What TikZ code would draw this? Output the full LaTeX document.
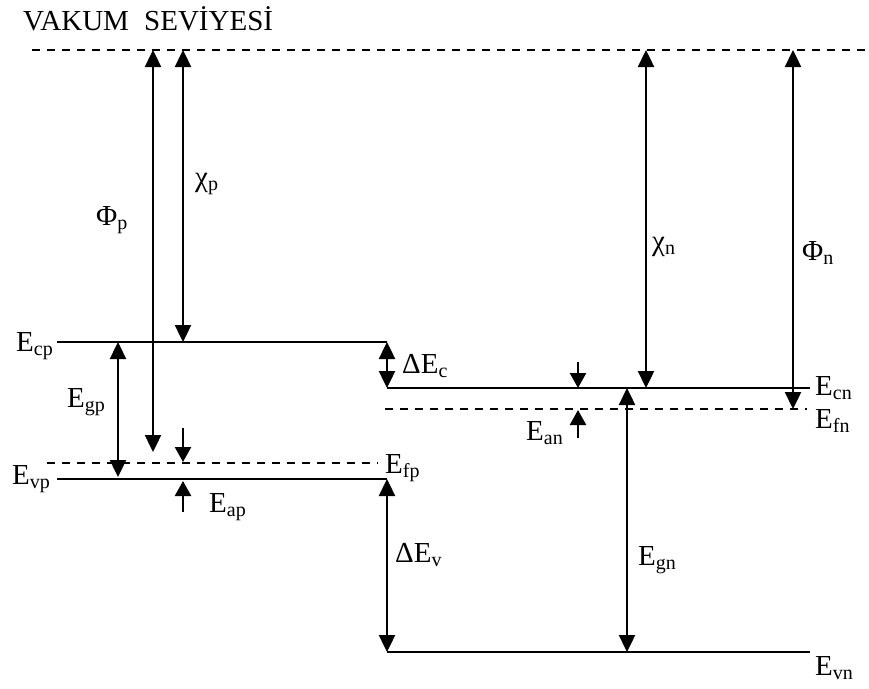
\documentclass[tikz,border=0pt]{standalone}
\usepackage{fontspec}
\setmainfont{Liberation Serif}
\usepackage{tikz}
\usetikzlibrary{arrows.meta}
\newcommand{\lv}[2]{#1\raisebox{-4pt}{\fontsize{20}{20}\selectfont #2}}
\tikzstyle{band} = [draw, line width=2.2pt]
\tikzstyle{fermi} = [draw, line width=1.8pt, dash pattern=on 8pt off 7pt]
\tikzstyle{gaparrow} = [draw, line width=2.4pt, {Triangle[length=17pt,width=16pt]}-{Triangle[length=17pt,width=16pt]}]
\tikzstyle{tickarrow} = [draw, line width=2.4pt, -{Triangle[length=15pt,width=16pt]}]
\tikzstyle{lbl} = [inner sep=0pt, anchor=base west, font=\fontsize{29}{33}\selectfont]

\begin{document}
\begin{tikzpicture}[x=1pt, y=-1pt]
    \useasboundingbox (0, 0) rectangle (869, 688);

    % vacuum level
    \node[lbl] at (23, 30) (vaclbl) {VAKUM\hspace{8pt} SEVİYESİ};
    \coordinate (vacL) at (32, 50);
    \coordinate (vacR) at (869, 50);
    \path[fermi] (vacL) -- (vacR);

    % p side levels
    \coordinate (ecpL) at (57, 342);
    \coordinate (ecpR) at (387, 342);
    \coordinate (efpL) at (47, 463);
    \coordinate (efpR) at (378, 463);
    \coordinate (evpL) at (57, 479);
    \coordinate (evpR) at (387, 479);
    \path[band] (ecpL) -- (ecpR);
    \path[fermi] (efpL) -- (efpR);
    \path[band] (evpL) -- (evpR);
    \node[lbl] at (16, 351) (ecp) {\lv{E}{cp}};
    \node[lbl] at (12, 484) (evp) {\lv{E}{vp}};
    \node[lbl] at (385, 473) (efp) {\lv{E}{fp}};

    % n side levels
    \coordinate (ecnL) at (387, 388);
    \coordinate (ecnR) at (810, 388);
    \coordinate (efnL) at (385, 409);
    \coordinate (efnR) at (807, 409);
    \coordinate (evnL) at (387, 652);
    \coordinate (evnR) at (810, 652);
    \path[band] (ecnL) -- (ecnR);
    \path[fermi] (efnL) -- (efnR);
    \path[band] (evnL) -- (evnR);
    \node[lbl] at (815, 395) (ecn) {\lv{E}{cn}};
    \node[lbl] at (815, 428) (efn) {\lv{E}{fn}};
    \node[lbl] at (815, 675) (evn) {\lv{E}{vn}};

    % p side arrows
    \coordinate (phipT) at (153, 50);
    \coordinate (phipB) at (153, 452);
    \path[gaparrow] (phipT) -- (phipB);
    \node[lbl] at (96, 225) (phip) {\lv{Φ}{p}};

    \coordinate (chipT) at (183, 50);
    \coordinate (chipB) at (183, 342);
    \path[gaparrow] (chipT) -- (chipB);
    \node[lbl] at (195, 186) (chip) {\lv{χ}{p}};

    \coordinate (egpT) at (118, 342);
    \coordinate (egpB) at (118, 477);
    \path[gaparrow] (egpT) -- (egpB);
    \node[lbl] at (67, 407) (egp) {\lv{E}{gp}};

    \coordinate (eapT) at (183, 428);
    \coordinate (eapM) at (183, 462);
    \coordinate (eapN) at (183, 481);
    \coordinate (eapB) at (183, 512);
    \path[tickarrow] (eapT) -- (eapM);
    \path[tickarrow] (eapB) -- (eapN);
    \node[lbl] at (209, 512) (eap) {\lv{E}{ap}};

    % offsets
    \path[gaparrow] (ecpR) -- (ecnL);
    \node[lbl] at (402, 373) (dec) {Δ\lv{E}{c}};
    \path[gaparrow] (evpR) -- (evnL);
    \node[lbl] at (395, 562) (dev) {Δ\lv{E}{v}};

    % n side arrows
    \coordinate (chinT) at (646, 50);
    \coordinate (chinB) at (646, 388);
    \path[gaparrow] (chinT) -- (chinB);
    \node[lbl] at (652, 250) (chin) {\lv{χ}{n}};

    \coordinate (phinT) at (793, 50);
    \coordinate (phinB) at (793, 409);
    \path[gaparrow] (phinT) -- (phinB);
    \node[lbl] at (802, 260) (phin) {\lv{Φ}{n}};

    \coordinate (egnT) at (627, 388);
    \coordinate (egnB) at (627, 652);
    \path[gaparrow] (egnT) -- (egnB);
    \node[lbl] at (638, 565) (egn) {\lv{E}{gn}};

    \coordinate (eanT) at (578, 362);
    \coordinate (eanM) at (578, 388);
    \coordinate (eanN) at (578, 410);
    \coordinate (eanB) at (578, 438);
    \path[tickarrow] (eanT) -- (eanM);
    \path[tickarrow] (eanB) -- (eanN);
    \node[lbl] at (526, 440) (ean) {\lv{E}{an}};

\end{tikzpicture}
\end{document}
